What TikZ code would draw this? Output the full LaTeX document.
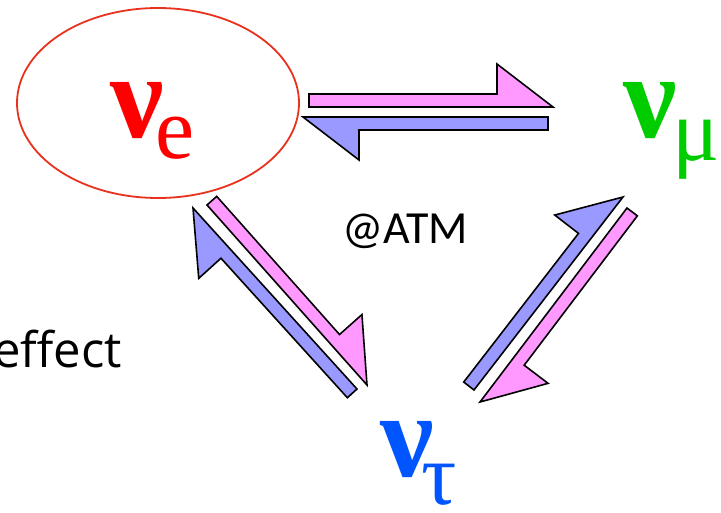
\documentclass[tikz,border=0pt]{standalone}
\usepackage{fontspec}
\newfontfamily\grserif{Liberation Serif}
\newfontfamily\atmfont{Carlito}
\newfontfamily\effont{Open Sans}
\usetikzlibrary{calc,shapes.geometric}
\definecolor{pinkfill}{RGB}{255,153,255}
\definecolor{bluefill}{RGB}{153,153,255}
\definecolor{ellred}{RGB}{232,50,30}
\definecolor{nured}{RGB}{255,0,0}
\definecolor{nugreen}{RGB}{0,204,0}
\definecolor{nublue}{RGB}{0,85,255}
\newcommand\halfarr[3]{%
  \filldraw[arrowline, fill=#3] (#2) -- ($(#2)!56pt!(#1)!43pt!90:(#2)$)
    -- ($(#2)!56pt!(#1)!13pt!90:(#2)$) -- ($(#1)!13pt!90:(#2)$) -- (#1) -- cycle;}
\newcommand\nubig{\grserif\bfseries\fontsize{120}{120}\selectfont}
\newcommand\nusub{\grserif\mdseries\fontsize{88}{88}\selectfont}
\begin{document}
\begin{tikzpicture}[x=1pt,y=-1pt,
  arrowline/.style={draw=black, line width=1.6pt, line join=miter},
  flav/.style={inner sep=0pt, anchor=base west}]
\useasboundingbox (0,0) rectangle (721,512);
\clip (0,0) rectangle (721,512);
\fill[white] (0,0) rectangle (721,512);
% ellipse around nu_e
\node[ellipse, draw=ellred, line width=1.8pt, minimum width=282pt, minimum height=190pt, inner sep=0pt] (ell) at (158,103) {};
% flavour labels
\node[flav, text=nured] (nue) at (110,137) {\nubig ν\kern-8pt\raisebox{-21pt}{\nusub e}};
\node[flav, text=nugreen] (numu) at (623,137) {\nubig ν\kern-4pt\raisebox{-23pt}{\nusub μ}};
\node[flav, text=nublue] (nutau) at (380,476) {\nubig ν\kern-12pt\raisebox{-28pt}{\nusub τ}};
\node[inner sep=0pt, anchor=base west] (atm) at (342,243) {\atmfont\fontsize{46}{46}\selectfont @ATM};
\node[inner sep=0pt, anchor=base west] (eff) at (-7,367) {\effont\fontsize{49}{49}\selectfont effect};
% arrow end points
\coordinate (p1t) at (309,107); \coordinate (p1h) at (553,107);
\coordinate (b1t) at (548,117); \coordinate (b1h) at (303,117);
\coordinate (p2t) at (207,205); \coordinate (p2h) at (367,385);
\coordinate (b2t) at (357,389); \coordinate (b2h) at (193,208);
\coordinate (b3t) at (474,390); \coordinate (b3h) at (623,197);
\coordinate (p3t) at (627,208); \coordinate (p3h) at (480,402);
\halfarr{p1t}{p1h}{pinkfill}
\halfarr{b1t}{b1h}{bluefill}
\halfarr{p2t}{p2h}{pinkfill}
\halfarr{b2t}{b2h}{bluefill}
\halfarr{b3t}{b3h}{bluefill}
\halfarr{p3t}{p3h}{pinkfill}
\end{tikzpicture}
\end{document}
